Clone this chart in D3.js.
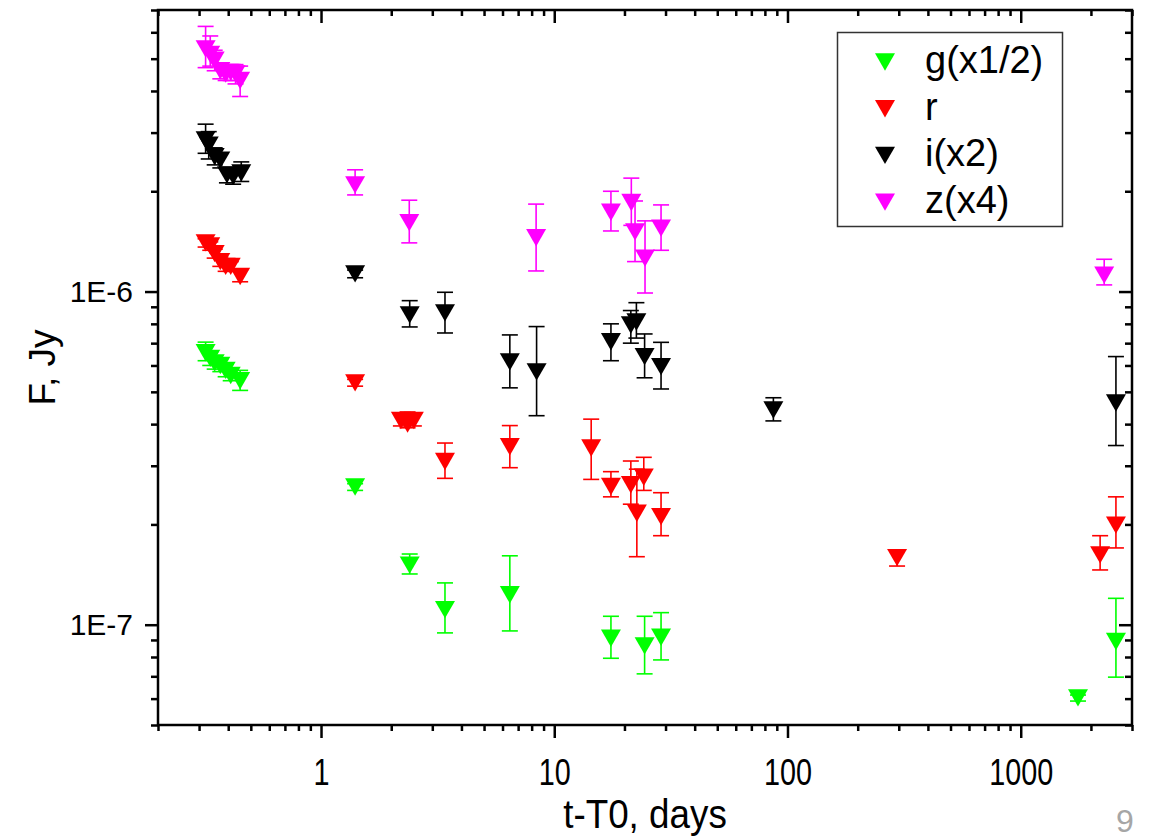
<!DOCTYPE html>
<html>
<head>
<meta charset="utf-8">
<script src="https://cdn.jsdelivr.net/npm/d3@7"></script>
<style>
  html, body { margin: 0; padding: 0; background: #fff; }
  svg text { font-family: Arial, "Liberation Sans", sans-serif; }
</style>
</head>
<body>
<div id="chart"></div>
<script>
// series: [t - T0 (days), F (Jy), lower error, upper error]
const gData = [
  [0.32, 6.55e-7, 6.2e-7, 7.05e-7],
  [0.335, 6.3e-7, 6.0e-7, 6.6e-7],
  [0.35, 6.1e-7, 5.85e-7, 6.4e-7],
  [0.37, 6.0e-7, 5.75e-7, 6.25e-7],
  [0.39, 5.8e-7, 5.55e-7, 6.05e-7],
  [0.41, 5.6e-7, 5.4e-7, 5.85e-7],
  [0.45, 5.4e-7, 5.05e-7, 5.8e-7],
  [1.4, 2.59e-7, 2.53e-7, 2.65e-7],
  [2.4, 1.51e-7, 1.42e-7, 1.63e-7],
  [3.4, 1.11e-7, 0.945e-7, 1.335e-7],
  [6.45, 1.23e-7, 0.958e-7, 1.61e-7],
  [17.5, 0.911e-7, 0.793e-7, 1.06e-7],
  [24.4, 0.864e-7, 0.712e-7, 1.06e-7],
  [28.7, 0.917e-7, 0.784e-7, 1.087e-7],
  [1760, 0.603e-7, 0.59e-7, 0.615e-7],
  [2560, 0.89e-7, 0.696e-7, 1.2e-7]
];
const rData = [
  [0.32, 1.40e-6, 1.36e-6, 1.44e-6],
  [0.335, 1.37e-6, 1.33e-6, 1.41e-6],
  [0.35, 1.30e-6, 1.26e-6, 1.34e-6],
  [0.37, 1.23e-6, 1.19e-6, 1.27e-6],
  [0.39, 1.19e-6, 1.15e-6, 1.23e-6],
  [0.41, 1.19e-6, 1.15e-6, 1.23e-6],
  [0.45, 1.11e-6, 1.07e-6, 1.16e-6],
  [1.4, 5.32e-7, 5.2e-7, 5.45e-7],
  [2.2, 4.1e-7, 3.95e-7, 4.3e-7],
  [2.35, 4.0e-7, 3.9e-7, 4.35e-7],
  [2.5, 4.1e-7, 3.95e-7, 4.3e-7],
  [3.4, 3.09e-7, 2.75e-7, 3.51e-7],
  [6.45, 3.42e-7, 2.96e-7, 3.96e-7],
  [14.4, 3.39e-7, 2.73e-7, 4.14e-7],
  [17.5, 2.6e-7, 2.42e-7, 2.88e-7],
  [21.3, 2.63e-7, 2.3e-7, 3.1e-7],
  [22.6, 2.16e-7, 1.6e-7, 2.93e-7],
  [24.2, 2.77e-7, 2.53e-7, 3.18e-7],
  [28.7, 2.11e-7, 1.85e-7, 2.49e-7],
  [295, 1.59e-7, 1.5e-7, 1.67e-7],
  [2190, 1.62e-7, 1.46e-7, 1.85e-7],
  [2560, 1.99e-7, 1.7e-7, 2.42e-7]
];
const iData = [
  [0.32, 2.85e-6, 2.6e-6, 3.18e-6],
  [0.33, 2.75e-6, 2.5e-6, 3.02e-6],
  [0.35, 2.54e-6, 2.4e-6, 2.7e-6],
  [0.37, 2.48e-6, 2.35e-6, 2.6e-6],
  [0.395, 2.24e-6, 2.12e-6, 2.36e-6],
  [0.42, 2.22e-6, 2.1e-6, 2.34e-6],
  [0.455, 2.27e-6, 2.14e-6, 2.45e-6],
  [1.4, 1.13e-6, 1.1e-6, 1.16e-6],
  [2.4, 8.51e-7, 7.83e-7, 9.39e-7],
  [3.4, 8.63e-7, 7.51e-7, 9.95e-7],
  [6.45, 6.15e-7, 5.14e-7, 7.41e-7],
  [8.4, 5.74e-7, 4.24e-7, 7.85e-7],
  [17.5, 7.07e-7, 6.2e-7, 8.0e-7],
  [21.3, 7.94e-7, 7.0e-7, 8.77e-7],
  [22.5, 8.1e-7, 7.25e-7, 9.26e-7],
  [24.4, 6.38e-7, 5.51e-7, 7.46e-7],
  [28.7, 5.95e-7, 5.1e-7, 7.04e-7],
  [87, 4.41e-7, 4.09e-7, 4.8e-7],
  [2560, 4.63e-7, 3.45e-7, 6.38e-7]
];
const zData = [
  [0.32, 5.35e-6, 4.7e-6, 6.25e-6],
  [0.335, 5.15e-6, 4.75e-6, 5.85e-6],
  [0.35, 4.95e-6, 4.6e-6, 5.3e-6],
  [0.37, 4.6e-6, 4.35e-6, 4.85e-6],
  [0.39, 4.5e-6, 4.3e-6, 4.75e-6],
  [0.41, 4.55e-6, 4.3e-6, 4.8e-6],
  [0.43, 4.5e-6, 4.2e-6, 4.8e-6],
  [0.45, 4.3e-6, 3.85e-6, 4.75e-6],
  [1.4, 2.09e-6, 1.95e-6, 2.32e-6],
  [2.39, 1.61e-6, 1.40e-6, 1.88e-6],
  [8.36, 1.45e-6, 1.153e-6, 1.83e-6],
  [17.5, 1.73e-6, 1.52e-6, 2.0e-6],
  [21.4, 1.85e-6, 1.58e-6, 2.19e-6],
  [22.2, 1.51e-6, 1.23e-6, 1.87e-6],
  [24.5, 1.26e-6, 0.99e-6, 1.63e-6],
  [28.7, 1.55e-6, 1.33e-6, 1.82e-6],
  [2280, 1.12e-6, 1.047e-6, 1.25e-6]
];

const seriesNames = ['g(x1/2)', 'r', 'i(x2)', 'z(x4)'];
const seriesColors = ['#00ff00', '#ff0000', '#000000', '#ff00ff'];
const seriesData = [gData, rData, iData, zData];

const xMajor = [1, 10, 100, 1000];
const yMajor = [1e-7, 1e-6];
const yLabels = ['1E-7', '1E-6'];

// chart geometry
const W = 1149, H = 840;
const plot = { left: 158, top: 10, right: 1132, bottom: 725 };

const svg = d3.select('#chart').append('svg')
  .attr('width', W).attr('height', H);

const x = d3.scaleLog().domain([0.2, 3000]).range([plot.left, plot.right]);
const y = d3.scaleLog().domain([5e-8, 7e-6]).range([plot.bottom, plot.top]);

// minor tick values: every 2..9 multiple inside the domain
function minorTicks(scale) {
  const [a, b] = scale.domain();
  const out = [];
  for (let e = Math.floor(Math.log10(a)); e <= Math.ceil(Math.log10(b)); e++) {
    for (let m = 2; m <= 9; m++) {
      const v = m * Math.pow(10, e);
      if (v >= a * 0.999 && v <= b * 1.001) out.push(v);
    }
  }
  return out;
}
const xMinor = minorTicks(x);
const yMinor = minorTicks(y);

function styleAxis(sel) {
  sel.select('.domain').remove();
  sel.selectAll('.tick line').attr('stroke', '#000').attr('stroke-width', 2.5);
}

// squeeze text horizontally (the slide's labels look condensed)
function condense(sel, k) {
  sel.each(function () {
    const len = this.getComputedTextLength();
    d3.select(this).attr('textLength', len * k).attr('lengthAdjust', 'spacingAndGlyphs');
  });
}

// bottom axis (outward)
svg.append('g').attr('transform', `translate(0,${plot.bottom})`)
  .call(d3.axisBottom(x).tickValues(xMinor).tickSize(6).tickFormat(''))
  .call(styleAxis);
svg.append('g').attr('transform', `translate(0,${plot.bottom})`)
  .call(d3.axisBottom(x).tickValues(xMajor).tickSize(13).tickPadding(21).tickFormat(d3.format('d')))
  .call(styleAxis)
  .selectAll('text').attr('font-size', 36).attr('fill', '#000')
  .call(condense, 0.8);

// top axis (inward)
svg.append('g').attr('transform', `translate(0,${plot.top})`)
  .call(d3.axisTop(x).tickValues(xMinor).tickSize(-6).tickFormat(''))
  .call(styleAxis);
svg.append('g').attr('transform', `translate(0,${plot.top})`)
  .call(d3.axisTop(x).tickValues(xMajor).tickSize(-13).tickFormat(''))
  .call(styleAxis);

// left axis (outward)
svg.append('g').attr('transform', `translate(${plot.left},0)`)
  .call(d3.axisLeft(y).tickValues(yMinor).tickSize(7).tickFormat(''))
  .call(styleAxis);
svg.append('g').attr('transform', `translate(${plot.left},0)`)
  .call(d3.axisLeft(y).tickValues(yMajor).tickSize(13).tickPadding(12)
    .tickFormat((d, i) => yLabels[i]))
  .call(styleAxis)
  .selectAll('text').attr('font-size', 30).attr('fill', '#000');

// right axis (inward)
svg.append('g').attr('transform', `translate(${plot.right},0)`)
  .call(d3.axisRight(y).tickValues(yMinor).tickSize(-7).tickFormat(''))
  .call(styleAxis);
svg.append('g').attr('transform', `translate(${plot.right},0)`)
  .call(d3.axisRight(y).tickValues(yMajor).tickSize(-13).tickFormat(''))
  .call(styleAxis);

// frame
svg.append('rect')
  .attr('x', plot.left).attr('y', plot.top)
  .attr('width', plot.right - plot.left).attr('height', plot.bottom - plot.top)
  .attr('fill', 'none').attr('stroke', '#000').attr('stroke-width', 2.5);

// axis titles
svg.append('text')
  .attr('x', (plot.left + plot.right) / 2).attr('y', 828)
  .attr('text-anchor', 'middle').attr('font-size', 40)
  .text('t-T0, days')
  .call(condense, 0.92);
svg.append('text')
  .attr('transform', `translate(55,${(plot.top + plot.bottom) / 2}) rotate(-90)`)
  .attr('text-anchor', 'middle').attr('font-size', 37)
  .text('F, Jy');

// slide number
svg.append('text')
  .attr('x', 1125).attr('y', 832)
  .attr('text-anchor', 'middle').attr('font-size', 32)
  .attr('font-family', '"Open Sans", sans-serif').attr('font-weight', 300)
  .attr('fill', '#a6a6a6')
  .text('9');

// down-triangle symbol centred on the data point
const tri = 'M-10,-8.7L10,-8.7L0,8.7Z';
const cap = 8;

seriesData.forEach((data, si) => {
  const color = seriesColors[si];
  const g = svg.append('g');
  const eb = g.selectAll('.eb').data(data).enter().append('g')
    .attr('stroke', color).attr('stroke-width', 1.6).attr('fill', 'none');
  eb.append('line')
    .attr('x1', d => x(d[0])).attr('x2', d => x(d[0]))
    .attr('y1', d => y(d[2])).attr('y2', d => y(d[3]));
  eb.append('line')
    .attr('x1', d => x(d[0]) - cap).attr('x2', d => x(d[0]) + cap)
    .attr('y1', d => y(d[2])).attr('y2', d => y(d[2]));
  eb.append('line')
    .attr('x1', d => x(d[0]) - cap).attr('x2', d => x(d[0]) + cap)
    .attr('y1', d => y(d[3])).attr('y2', d => y(d[3]));
  g.selectAll('.pt').data(data).enter().append('path')
    .attr('d', tri)
    .attr('transform', d => `translate(${x(d[0])},${y(d[1])})`)
    .attr('fill', color);
});

// legend
const legend = svg.append('g');
legend.append('rect')
  .attr('x', 837.5).attr('y', 32.5).attr('width', 225).attr('height', 194)
  .attr('fill', '#fff').attr('stroke', '#333').attr('stroke-width', 1.5);
seriesNames.forEach((name, i) => {
  const cy = 62 + i * 46.7;
  legend.append('path').attr('d', tri)
    .attr('transform', `translate(885,${cy})`)
    .attr('fill', seriesColors[i]);
  legend.append('text')
    .attr('x', 925).attr('y', cy + 11)
    .attr('font-size', 38)
    .text(name);
});
</script>
</body>
</html>
